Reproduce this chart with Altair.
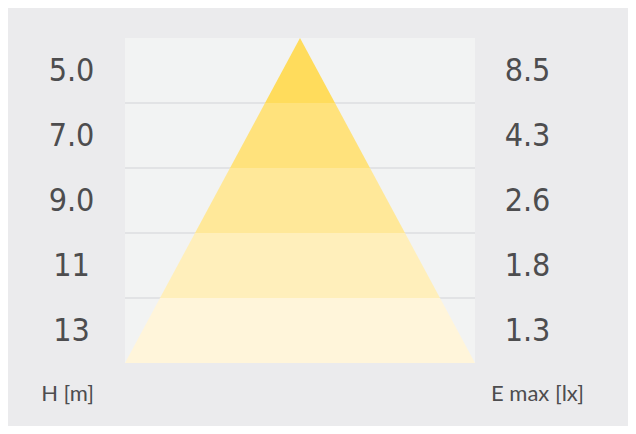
import json
import altair as alt
import pandas as pd

# ---- data ----
heights = ["5.0", "7.0", "9.0", "11", "13"]        # H [m]
emax = ["8.5", "4.3", "2.6", "1.8", "1.3"]          # E max [lx]
band_colors = ["#ffdc5c", "#ffe27c", "#ffe899", "#ffefbb", "#fff5da"]

n = len(heights)

# cone geometry: band i spans depth i..i+1, half-width grows linearly with depth
rows = []
for i in range(n):
    for d in (i, i + 1):
        rows.append({"band": i, "depth": d, "left": -d / n, "right": d / n})
bands = pd.DataFrame(rows)
bounds = pd.DataFrame({"b": list(range(1, n))})

mids = [i + 0.5 for i in range(n)]
h_expr = json.dumps(heights) + "[floor(datum.value)]"
e_expr = json.dumps(emax) + "[floor(datum.value)]"

y_scale = alt.Scale(domain=[0, n], reverse=True, nice=False, zero=False)
x_scale = alt.Scale(domain=[-1, 1], nice=False, zero=False)

LABEL_FONT = "DejaVu Sans Condensed, sans-serif"
TITLE_FONT = "Lato, Open Sans, sans-serif"
TEXT_COLOR = "#4d4d4f"

common_axis = dict(
    values=mids,
    orient="left",
    ticks=False,
    tickSize=0,
    domain=False,
    grid=False,
    labelAlign="center",
    labelBaseline="middle",
    labelFont=LABEL_FONT,
    labelFontSize=32,
    labelColor=TEXT_COLOR,
    labelOverlap=False,
    labelFlush=False,
    labelBound=False,
    titleAngle=0,
    titleAlign="center",
    titleBaseline="middle",
    titleFont=TITLE_FONT,
    titleFontSize=22,
    titleFontWeight="normal",
    titleColor=TEXT_COLOR,
    titleY=355,
)

left_axis = alt.Axis(**{**common_axis, "orient": "left", "labelExpr": h_expr,
                        "labelPadding": 54, "titleX": -58})
right_axis = alt.Axis(**{**common_axis, "orient": "right", "labelExpr": e_expr,
                         "labelPadding": 52, "titleX": 62})

rules = alt.Chart(bounds).mark_rule(color="#e2e3e5", strokeWidth=2).encode(
    y=alt.Y("b:Q", scale=y_scale, axis=right_axis, title="E max [lx]")
)

cone = alt.Chart(bands).mark_area(orient="horizontal", opacity=1).encode(
    y=alt.Y("depth:Q", scale=y_scale, axis=left_axis, title="H [m]"),
    x=alt.X("left:Q", scale=x_scale, axis=None),
    x2="right:Q",
    color=alt.Color("band:N", scale=alt.Scale(domain=list(range(n)), range=band_colors), legend=None),
    detail="band:N",
)

chart = (
    alt.layer(rules, cone)
    .resolve_axis(y="independent")
    .properties(
        width=350,
        height=325,
        background="#ebebed",
        padding={"left": 117, "top": 30, "right": 153, "bottom": 63},
        autosize=alt.AutoSizeParams(type="none"),
    )
    .configure_view(fill="#f2f3f3", stroke=None)
)

chart.save("out.html", embed_options={"renderer": "svg", "actions": False})
